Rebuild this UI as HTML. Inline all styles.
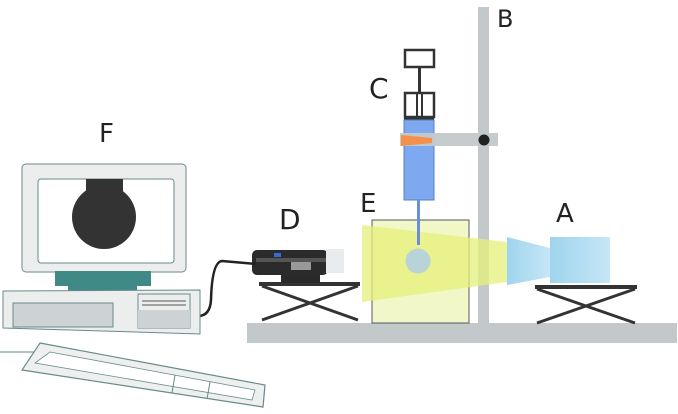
<!DOCTYPE html>
<html><head><style>
body{margin:0;background:#fff}
svg{display:block}
text{font-family:"DejaVu Sans","Liberation Sans",sans-serif;fill:#222}
</style></head><body>
<svg width="678" height="414" viewBox="0 0 678 414">
<defs>
<linearGradient id="lb" x1="0" x2="1"><stop offset="0" stop-color="#9fd4ee"/><stop offset="1" stop-color="#c6e6f6"/></linearGradient>
</defs>
<rect x="247" y="323" width="430" height="20" fill="#c3c9cb"/>
<rect x="478" y="7" width="11" height="318" fill="#c3c9cb"/>
<text x="497" y="27" font-size="24">B</text>
<rect x="372" y="220" width="97" height="103" fill="#f2f7c8" stroke="#556" stroke-width="1"/>
<polygon points="362,225 507,242 507,282 362,302" fill="#e6f07a" opacity="0.75"/>
<rect x="405" y="50" width="29" height="17" fill="#fff" stroke="#333" stroke-width="2.5"/>
<rect x="418" y="67" width="3" height="27" fill="#333"/>
<rect x="405" y="93" width="29" height="24" fill="#fff" stroke="#333" stroke-width="2.5"/>
<rect x="416" y="93" width="2" height="24" fill="#333"/>
<rect x="421" y="93" width="2" height="24" fill="#333"/>
<rect x="404" y="116" width="30" height="4" fill="#333"/>
<rect x="404" y="120" width="30" height="80" fill="#7ea8f0" stroke="#5a80c8" stroke-width="1"/>
<rect x="400" y="133" width="98" height="13" fill="#c3c9cb" opacity="0.95"/>
<polygon points="401,135 432,138 432,143 401,146" fill="#f4904a"/>
<circle cx="484" cy="140" r="5.5" fill="#222"/>
<rect x="417" y="200" width="3" height="45" fill="#6a8fd8"/>
<circle cx="418" cy="261" r="12.5" fill="#b8d4d8"/>
<text x="369" y="98" font-size="28">C</text>
<text x="360" y="212" font-size="26">E</text>
<polygon points="507,237 550,248 550,277 507,285" fill="url(#lb)"/>
<rect x="550" y="237" width="60" height="46" fill="url(#lb)"/>
<text x="556" y="222" font-size="26">A</text>
<rect x="535" y="285" width="102" height="4" fill="#333"/>
<path d="M537,289 L635,323 M635,289 L537,323" stroke="#333" stroke-width="3"/>
<rect x="259" y="282" width="101" height="4" fill="#333"/>
<path d="M262,286 L358,320 M358,286 L262,320" stroke="#333" stroke-width="3"/>
<rect x="281" y="272" width="39" height="11" fill="#2a2a2a"/>
<rect x="252" y="250" width="76" height="25" rx="5" fill="#2b2b2b"/>
<rect x="256" y="258" width="70" height="4" fill="#555"/>
<rect x="274" y="253" width="7" height="4" fill="#3a6ad8"/>
<rect x="291" y="262" width="20" height="8" fill="#999"/>
<rect x="326" y="249" width="18" height="24" fill="#e8ecee"/>
<text x="279" y="229" font-size="28">D</text>
<path d="M198,316 Q210,316 211,300 Q212,262 222,261 L256,264" fill="none" stroke="#222" stroke-width="2.5"/>
<text x="99" y="142" font-size="26">F</text>
<rect x="22" y="164" width="164" height="108" rx="4" fill="#eceeee" stroke="#6a8a8a" stroke-width="1"/>
<rect x="38" y="179" width="136" height="84" rx="3" fill="#fff" stroke="#6a8a8a" stroke-width="1"/>
<rect x="86" y="179" width="37" height="16" fill="#333"/>
<circle cx="104" cy="217" r="32" fill="#333"/>
<rect x="55" y="271" width="96" height="15" fill="#3f8a86"/>
<rect x="68" y="286" width="69" height="6" fill="#3f8a86"/>
<polygon points="3,291 200,290 200,334 3,328" fill="#eceeee" stroke="#6a8a8a" stroke-width="1"/>
<rect x="13" y="303" width="100" height="24" fill="#cdd2d4" stroke="#6a8a8a" stroke-width="1"/>
<rect x="138" y="294" width="52" height="34" fill="#eceeee" stroke="#6a8a8a" stroke-width="1"/>
<rect x="138" y="310" width="52" height="18" fill="#cdd2d4"/>
<line x1="142" y1="301" x2="186" y2="301" stroke="#555"/>
<line x1="142" y1="305" x2="186" y2="305" stroke="#555"/>
<line x1="0" y1="352" x2="35" y2="352" stroke="#6a8a8a"/>
<polygon points="40,343 265,385 263,407 22,370" fill="#eef0f0" stroke="#6a8a8a" stroke-width="1.2"/>
<polygon points="50,352 255,390 252,400 35,363" fill="#fff" stroke="#6a8a8a" stroke-width="0.8"/>
<line x1="175" y1="375" x2="172" y2="393" stroke="#6a8a8a"/>
<line x1="210" y1="382" x2="207" y2="399" stroke="#6a8a8a"/>
</svg>
</body></html>
